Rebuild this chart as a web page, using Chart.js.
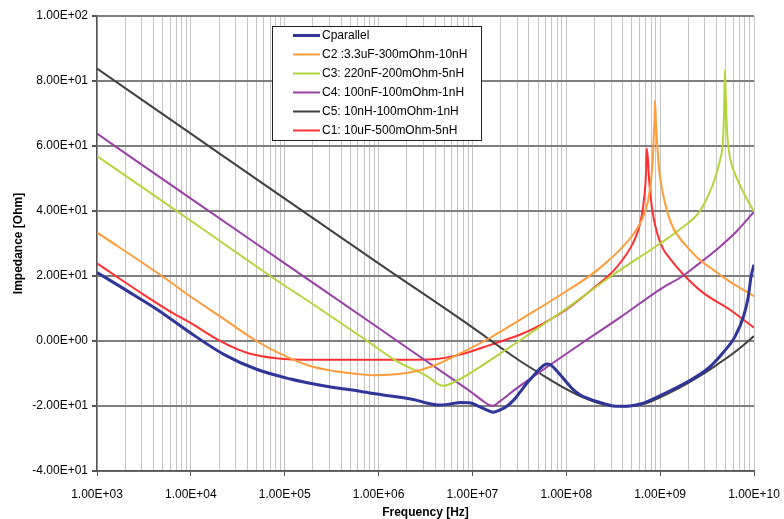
<!DOCTYPE html>
<html>
<head>
<meta charset="utf-8">
<script src="https://cdn.jsdelivr.net/npm/chart.js@4"></script>
<style>
  body { margin: 0; background: #fff; }
  #wrap { width: 784px; height: 519px; }
</style>
</head>
<body>
<div id="wrap"><canvas id="chart" width="784" height="519"></canvas></div>
<script>
// values (frequency in Hz, value on the y axis)
const seriesNames = [
  'Cparallel',
  'C2 :3.3uF-300mOhm-10nH',
  'C3: 220nF-200mOhm-5nH',
  'C4: 100nF-100mOhm-1nH',
  'C5: 10nH-100mOhm-1nH',
  'C1: 10uF-500mOhm-5nH'
];
const seriesColors = ['#2f3699', '#ff9c3a', '#b4d43c', '#9a3fa8', '#404040', '#ff3030'];

// Cparallel
const fPar = [1e3, 2e3, 4.37e3, 9.77e3, 2.24e4, 5.01e4, 1.15e5, 1.86e5, 3.31e5, 5e5, 7.41e5, 1.12e6, 1.7e6, 2.51e6,
  3.16e6, 4.47e6, 6.03e6, 7.41e6, 9.33e6, 1.2e7, 1.41e7, 1.66e7, 2e7, 2.29e7, 2.75e7, 3.24e7, 3.8e7, 4.47e7, 5.25e7,
  6.17e7, 6.76e7, 7.59e7, 8.51e7, 1e8, 1.17e8, 1.41e8, 1.78e8, 2.29e8, 3.16e8, 3.72e8, 5.01e8, 6.17e8, 1e9,
  1.91e9, 3.16e9, 4.68e9, 6.31e9, 7.76e9, 8.71e9, 9.33e9, 1e10];
const vPar = [21.1, 15.8, 9.7, 2.6, -4.1, -8.7, -11.7, -13.0, -14.3, -15.0, -15.8, -16.6, -17.3, -18.2,
  -19.0, -19.7, -19.3, -18.9, -19.0, -20.3, -21.2, -21.9, -21.1, -20.2, -18.2, -15.6, -13.0, -10.7, -8.5,
  -7.1, -7.3, -8.6, -10.2, -12.6, -14.8, -16.6, -17.9, -18.9, -20.0, -20.1, -19.9, -19.4, -16.8,
  -12.7, -8.7, -3.6, 1.5, 7.7, 13.8, 20.0, 23.5];

// C2
const fC2 = [1e3, 5.13e3, 1e4, 2.24e4, 5e4, 1e5, 1.86e5, 3.31e5, 5.62e5, 8.91e5, 1.41e6, 2.14e6, 3.8e6, 7.41e6,
  1.55e7, 3.24e7, 1e8, 2.29e8, 5.13e8, 6.61e8, 7.41e8, 7.94e8, 8.32e8, 8.51e8, 8.71e8, 8.81e8, 9.02e8, 9.33e8,
  9.77e8, 1.07e9, 1.2e9, 1.32e9, 1.48e9, 2e9, 2.63e9, 3.72e9, 5.13e9, 7.24e9, 1e10];
const vC2 = [33.4, 19.6, 13.6, 6.8, 0.0, -4.6, -7.7, -9.2, -10.1, -10.5, -10.3, -9.7, -7.7, -3.8,
  1.0, 6.6, 15.3, 22.5, 32.7, 38.3, 43.0, 48.5, 55.0, 61.8, 68.0, 74.0, 67.0, 60.0,
  52.6, 45.4, 39.5, 36.0, 33.2, 28.5, 25.0, 21.8, 18.9, 16.2, 13.8];

// C3
const fC3 = [1e3, 1e4, 1e5, 1.45e5, 7.41e5, 1.58e6, 3.24e6, 4.9e6, 6.76e6, 1.1e7, 1.95e7, 1e8, 3.02e8, 1e9,
  1.51e9, 2.63e9, 3.16e9, 3.63e9, 3.98e9, 4.37e9, 4.68e9, 4.79e9, 4.9e9, 5.01e9, 5.13e9, 5.37e9, 5.75e9,
  6.46e9, 7.94e9, 1e10];
const vC3 = [56.9, 37.0, 17.0, 14.0, 0.2, -6.3, -10.7, -13.8, -12.3, -8.7, -4.0, 10.0, 20.0, 30.0,
  33.7, 39.8, 44.0, 48.0, 51.6, 56.0, 62.0, 70.0, 83.4, 75.0, 66.0, 59.0, 54.5,
  50.5, 45.0, 39.8];

// C4
const fC4 = [1e3, 1e4, 1e5, 1e6, 3.16e6, 1e7, 1.26e7, 1.48e7, 1.66e7, 1.91e7, 2.88e7, 6.46e7, 1.58e8, 3.72e8,
  1e9, 1.74e9, 2.51e9, 3.98e9, 6.31e9, 1e10];
const vC4 = [63.8, 43.8, 23.9, 4.0, -6.0, -16.0, -18.2, -19.6, -19.9, -18.8, -14.8, -7.7, 0.0, 7.2,
  15.9, 20.0, 23.5, 28.1, 33.3, 39.8];

// C5
const fC5 = [1e3, 1e4, 1e5, 1e6, 1e7, 1.95e7, 3.16e7, 5.25e7, 1e8, 1.58e8, 2.45e8, 3.98e8, 6.61e8, 1e9,
  1.58e9, 2.63e9, 3.98e9, 6.31e9, 1e10];
const vC5 = [83.8, 63.8, 43.8, 23.9, 4.2, -1.8, -6.0, -10.0, -14.8, -17.6, -19.5, -20.1, -19.4, -17.3,
  -14.5, -10.8, -7.4, -3.3, 1.5];

// C1
const fC1 = [1e3, 1.78e3, 3.16e3, 5.62e3, 1e4, 1.91e4, 3.16e4, 4.27e4, 8.13e4, 1.86e5, 1e6, 3.8e6, 7.41e6,
  1.55e7, 3.24e7, 4.47e7, 1e8, 2.29e8, 3.16e8, 3.98e8, 5.01e8, 5.75e8, 6.31e8, 6.76e8, 7.08e8, 7.19e8,
  7.41e8, 7.59e8, 7.94e8, 8.51e8, 9.33e8, 1.07e9, 1.26e9, 1.78e9, 2.88e9, 5.5e9, 1e10];
const vC1 = [23.9, 19.0, 14.2, 9.6, 5.5, 0.5, -2.6, -3.9, -5.3, -5.8, -5.8, -5.6, -4.2,
  -1.2, 2.0, 3.8, 9.7, 17.9, 21.5, 25.0, 29.5, 33.5, 38.0, 44.0, 52.0, 59.2,
  56.0, 50.5, 44.0, 38.0, 33.0, 28.5, 25.5, 20.4, 14.8, 9.7, 4.1];

const yTicks = [-40, -20, 0, 20, 40, 60, 80, 100];

const freqs = [fPar, fC2, fC3, fC4, fC5, fC1];
const vals = [vPar, vC2, vC3, vC4, vC5, vC1];

// 1.00E+03 形式
function sci(v) {
  return Number(v).toExponential(2).toUpperCase().replace(/E([+-])(\d+)$/, (m, s, d) => 'E' + s + d.padStart(2, '0'));
}
function isDecade(v) {
  const l = Math.log10(v);
  return Math.abs(l - Math.round(l)) < 1e-6;
}

const FONT = 'Liberation Sans, Arial, sans-serif';

const datasets = seriesNames.map((name, i) => ({
  label: name,
  data: freqs[i].map((f, j) => ({ x: f, y: vals[i][j] })),
  borderColor: seriesColors[i],
  backgroundColor: seriesColors[i],
  borderWidth: i === 0 ? 3 : 2,
  pointRadius: 0,
  cubicInterpolationMode: 'monotone',
  fill: false
}));

// 凡例はグラフの中に描く
const boxLegend = {
  id: 'boxLegend',
  afterDraw(chart) {
    const ctx = chart.ctx;
    const x0 = 272, y0 = 26, w = 209, h = 114;
    ctx.save();
    ctx.fillStyle = '#fff';
    ctx.fillRect(x0, y0, w, h);
    ctx.strokeStyle = '#222';
    ctx.lineWidth = 1;
    ctx.strokeRect(x0 + 0.5, y0 + 0.5, w, h);
    ctx.font = '12px ' + FONT;
    ctx.textBaseline = 'middle';
    chart.data.datasets.forEach((ds, i) => {
      const y = y0 + 9.5 + i * 19;
      ctx.strokeStyle = ds.borderColor;
      ctx.lineWidth = ds.borderWidth;
      ctx.beginPath();
      ctx.moveTo(293, y);
      ctx.lineTo(320, y);
      ctx.stroke();
      ctx.fillStyle = '#000';
      ctx.fillText(ds.label, 322, y);
    });
    ctx.restore();
  }
};

new Chart(document.getElementById('chart'), {
  type: 'line',
  data: { datasets: datasets },
  options: {
    responsive: false,
    animation: false,
    layout: { padding: { top: 16, right: 30, left: 0, bottom: 0 } },
    plugins: {
      legend: { display: false },
      tooltip: { enabled: false }
    },
    scales: {
      x: {
        type: 'logarithmic',
        min: 1e3,
        max: 1e10,
        afterFit(scale) {
          scale.height = 48;
          // 端のラベルで幅が縮まないように
          scale.paddingLeft = 0;
          scale.paddingRight = 0;
        },
        afterBuildTicks(scale) {
          const t = [];
          for (let e = 3; e < 10; e++) {
            for (let m = 1; m < 10; m++) t.push({ value: m * Math.pow(10, e) });
          }
          t.push({ value: 1e10 });
          scale.ticks = t;
        },
        grid: {
          color: '#c4c4c4',
          lineWidth: 1,
          tickLength: 5,
          tickColor: (c) => (c.tick && isDecade(c.tick.value)) ? '#555' : 'rgba(0,0,0,0)'
        },
        border: { color: '#555', width: 1.5 },
        ticks: {
          autoSkip: false,
          maxRotation: 0,
          padding: 11,
          color: '#000',
          font: { family: FONT, size: 12 },
          callback: (v) => isDecade(v) ? sci(v) : ''
        },
        title: {
          display: true,
          text: 'Frequency [Hz]',
          color: '#000',
          font: { family: FONT, size: 12, weight: 'bold', lineHeight: 1 },
          padding: { top: 2, bottom: 0 }
        }
      },
      y: {
        min: -40,
        max: 100,
        afterFit(scale) { scale.width = 97; },
        afterBuildTicks(scale) { scale.ticks = yTicks.map(v => ({ value: v })); },
        grid: {
          color: '#808080',
          lineWidth: 2,
          tickLength: 5,
          tickColor: '#555'
        },
        border: { color: '#555', width: 1.5 },
        ticks: {
          padding: 4,
          color: '#000',
          font: { family: FONT, size: 12 },
          callback: (v) => sci(v)
        },
        title: {
          display: true,
          text: 'Impedance [Ohm]',
          color: '#000',
          font: { family: FONT, size: 12, weight: 'bold' },
          padding: { top: 11, bottom: 4 }
        }
      }
    }
  },
  plugins: [boxLegend]
});
</script>
</body>
</html>
